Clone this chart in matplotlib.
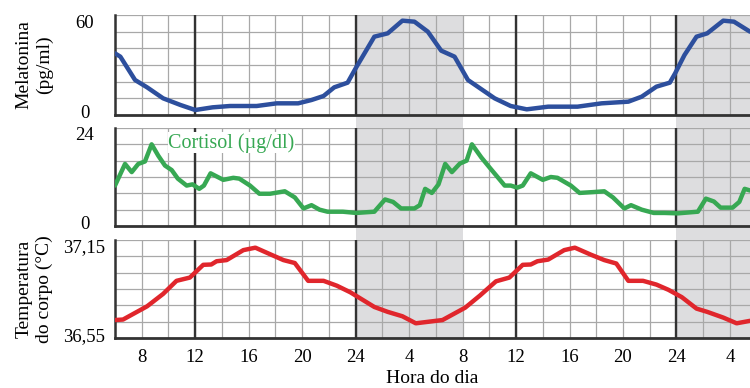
import numpy as np
import matplotlib
matplotlib.use('Agg')
import matplotlib.pyplot as plt
import matplotlib.transforms as mtransforms

# hours since midnight of day 1 (6 = 06:00, 30 = 06:00 of day 2 ...)
mel_h = [6.0, 6.4, 7.5, 8.4, 9.6, 10.9, 12.0, 13.3, 14.6, 16.6, 18.1, 19.7, 20.7, 21.6,
         22.4, 23.4, 24.0, 25.4, 26.4, 27.5, 28.4, 29.4, 30.4, 31.4, 32.4, 33.2, 34.4,
         35.6, 36.8, 38.4, 40.6, 42.4, 44.4, 45.4, 46.5, 47.5, 47.9, 48.6, 49.5, 50.3,
         51.5, 52.3, 53.5]
mel_v = [37, 35, 21, 16.6, 10, 6, 3, 4.6, 5.4, 5.4, 7, 7, 9, 11.4,
         16.6, 19.4, 28, 47, 49, 56.6, 56, 50, 38.6, 35, 21, 16.6, 10,
         5.4, 3.4, 5, 5, 7, 8, 11, 17, 19.4, 25, 36, 47, 49,
         56.6, 56, 50]

cor_h = [6.0, 6.75, 7.25, 7.74, 8.24, 8.74, 9.24, 9.74, 10.24, 10.7, 11.36, 11.8, 12.3,
         12.65, 13.15, 14.1, 14.85, 15.3, 16.1, 16.8, 17.6, 18.7, 19.45, 20.1, 20.7, 21.3,
         21.9, 23.05, 24.05, 25.4, 26.2, 26.8, 27.4, 28.4, 28.8, 29.2, 29.7, 30.2, 30.7,
         31.2, 31.8, 32.3, 32.7, 33.4, 34.0, 35.15, 35.6, 36.1, 36.5, 37.1, 38.0, 38.6,
         39.1, 40.1, 40.75, 41.75, 42.6, 43.25, 44.1, 44.6, 45.4, 46.3, 47.1, 48.1, 49.6,
         50.2, 50.8, 51.3, 52.2, 52.7, 53.1, 53.5]
cor_v = [9.9, 15.2, 13.2, 15.2, 15.8, 20, 17.2, 14.8, 13.7, 11.6, 9.9, 10.2, 9.1,
         9.9, 12.9, 11.3, 11.8, 11.6, 9.9, 7.9, 7.9, 8.5, 7.0, 4.3, 5.1, 4.0,
         3.5, 3.5, 3.2, 3.5, 6.5, 5.9, 4.3, 4.3, 5.1, 9.1, 8.1, 10.2, 15.2,
         13.2, 15.3, 16, 20, 16.8, 14.4, 9.9, 9.9, 9.4, 9.9, 12.9, 11.3, 12,
         11.8, 9.9, 8.1, 8.3, 8.5, 7.0, 4.3, 5.1, 4.0, 3.2, 3.2, 3.1, 3.5,
         6.7, 6.0, 4.5, 4.5, 5.9, 9.1, 8.7]

tmp_h = [6.0, 6.6, 8.4, 9.6, 10.6, 11.6, 12.6, 13.2, 13.6, 14.35, 15.6, 16.5, 17.6,
         18.6, 19.45, 20.45, 21.6, 22.6, 23.6, 24.6, 25.4, 26.4, 27.5, 28.5, 29.5, 30.5,
         32.2, 33.3, 34.5, 35.5, 36.5, 37.1, 37.6, 38.4, 39.6, 40.4, 41.6, 42.6, 43.5,
         44.4, 45.5, 46.5, 47.4, 48.4, 49.5, 50.3, 51.5, 52.5, 53.5]
tmp_v = [36.66, 36.663, 36.744, 36.82, 36.90, 36.92, 36.998, 37.0, 37.02, 37.027, 37.088,
         37.103, 37.063, 37.027, 37.009, 36.90, 36.90, 36.87, 36.83, 36.78, 36.74, 36.71,
         36.683, 36.64, 36.65, 36.66, 36.736, 36.81, 36.897, 36.92, 36.998, 37.0, 37.02,
         37.03, 37.088, 37.103, 37.06, 37.027, 37.006, 36.90, 36.90, 36.877, 36.845, 36.80,
         36.73, 36.71, 36.675, 36.64, 36.655]

night = [(24, 32), (48, 60)]
xtick_pos = [8, 12, 16, 20, 24, 28, 32, 36, 40, 44, 48, 52]
xtick_lab = ['8', '12', '16', '20', '24', '4', '8', '12', '16', '20', '24', '4']
midday_lines = [12, 24, 36, 48]

plt.rcParams['font.family'] = 'serif'
plt.rcParams['font.serif'] = ['Liberation Serif', 'DejaVu Serif']

W, H = 750.0, 388.0
X0, X1 = 6, 53.5

def box(top, bottom):
    return [115 / W, 1 - bottom / H, (W - 115) / W, (bottom - top) / H]

fig = plt.figure(figsize=(7.5, 3.88), dpi=100)

# night shading, continuous across the three panels
bg = fig.add_axes(box(15, 338))
bg.set_xlim(X0, X1)
bg.axis('off')
for a, b in night:
    bg.axvspan(a, b, color='#dddddf', lw=0)

panels = [
    dict(pos=(15, 115), x=mel_h, y=mel_v, color='#2d4f9d', lim=(0, 60), step=10,
         labels=('0', '60'), ylabel='Melatonina\n(pg/ml)'),
    dict(pos=(128, 226), x=cor_h, y=cor_v, color='#37a853', lim=(0, 24), step=4,
         labels=('0', '24'), ylabel=None),
    dict(pos=(240, 338), x=tmp_h, y=tmp_v, color='#e0262c', lim=(36.55, 37.15), step=0.1,
         labels=('36,55', '37,15'), ylabel='Temperatura\ndo corpo (°C)'),
]

axes = []
for p in panels:
    ax = fig.add_axes(box(*p['pos']))
    ax.set_facecolor('none')
    ax.set_xlim(X0, X1)
    ax.set_ylim(*p['lim'])
    ax.set_xticks(np.arange(6, 54, 2), minor=True)
    ax.set_yticks(np.linspace(p['lim'][0], p['lim'][1], 7), minor=True)
    ax.set_yticks(p['lim'])
    ax.set_yticklabels(p['labels'])
    ax.grid(True, which='both', color='#a8a8a8', lw=0.9)
    ax.set_axisbelow(True)
    for h in midday_lines:
        ax.axvline(h, color='#333333', lw=1.7, zorder=1.5)
    ax.plot(p['x'], p['y'], color=p['color'], lw=3.2, solid_joinstyle='round',
            solid_capstyle='round', zorder=3)
    for s in ['top', 'right']:
        ax.spines[s].set_visible(False)
    ax.spines['left'].set_color('#333333')
    ax.spines['left'].set_linewidth(1.8)
    ax.spines['bottom'].set_color('#333333')
    ax.spines['bottom'].set_linewidth(2.0)
    ax.tick_params(which='both', length=0)
    ax.tick_params(axis='y', labelsize=13.5, pad=22)
    for lab in ax.get_yticklabels():
        lab.set_horizontalalignment('center')
    lo, hi = ax.get_yticklabels()
    hi.set_transform(hi.get_transform() +
                     mtransforms.ScaledTranslation(0, -0.06, fig.dpi_scale_trans))
    lo.set_transform(lo.get_transform() +
                     mtransforms.ScaledTranslation(0, 0.035, fig.dpi_scale_trans))
    if p['ylabel']:
        ax.set_ylabel(p['ylabel'], fontsize=14, linespacing=1.2)
        ax.yaxis.set_label_coords(-0.098, 0.5)
    axes.append(ax)

for ax in axes[:-1]:
    ax.set_xticks(xtick_pos)
    ax.set_xticklabels([])
axes[-1].set_xticks(xtick_pos)
axes[-1].set_xticklabels(xtick_lab)
axes[-1].tick_params(axis='x', labelsize=13.5, pad=8)
axes[-1].set_xlabel('Hora do dia', fontsize=14, labelpad=3)

axes[1].text(10.0, 20.4, 'Cortisol (µg/dl)', color='#37a853', fontsize=14.5,
             va='center', ha='left', zorder=4,
             bbox=dict(facecolor='white', edgecolor='none', pad=0.5))

fig.savefig('out.png', dpi=100)
